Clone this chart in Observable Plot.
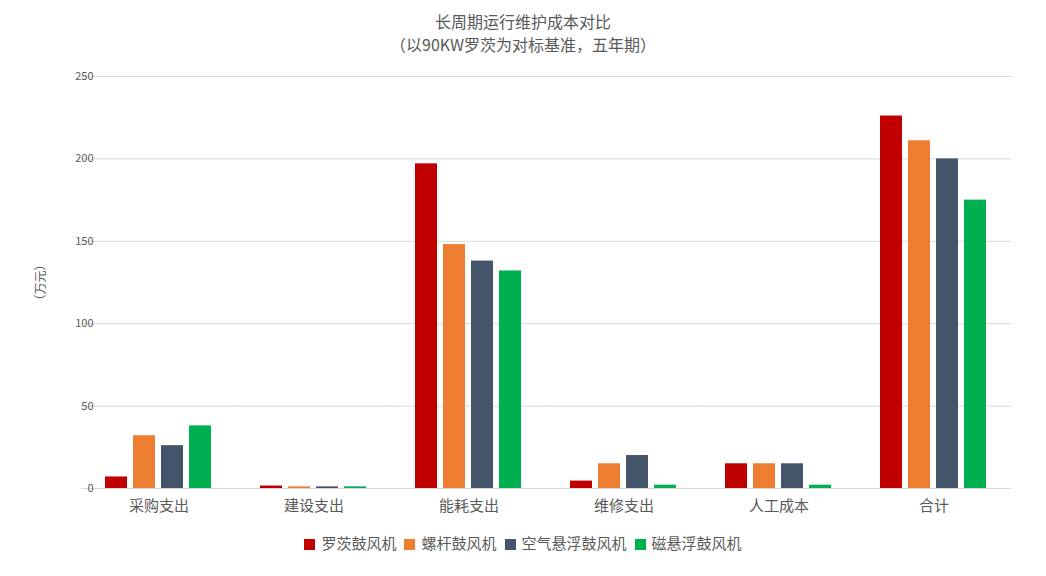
<!DOCTYPE html>
<html><head><meta charset="utf-8">
<script src="https://cdn.jsdelivr.net/npm/d3@7"></script>
<script src="https://cdn.jsdelivr.net/npm/@observablehq/plot@0.6"></script>
<style>
body{margin:0;background:#fff;font-family:"Noto Sans CJK SC","Noto Sans",sans-serif;color:#595959;width:1046px;overflow:hidden}
#title{height:60px;text-align:center;font-size:16px;line-height:23px;padding-top:10px;box-sizing:border-box}
#legend{display:flex;justify-content:center;gap:8px;font-size:15px;margin-top:2px}
#legend span.sw{display:inline-block;width:11px;height:11px;margin-right:6px;vertical-align:-1px}
</style></head><body>
<div id="title">长周期运行维护成本对比<br>（以90KW罗茨为对标基准，五年期）</div>
<div id="chart"></div>
<div id="legend"></div>
<script>
const categories = ["采购支出","建设支出","能耗支出","维修支出","人工成本","合计"];
const seriesNames = ["罗茨鼓风机","螺杆鼓风机","空气悬浮鼓风机","磁悬浮鼓风机"];
const colors = ["#C00000","#ED7D31","#44546A","#00B050"];
const roots   = [7, 1.5, 197, 4.5, 15, 226];
const screw   = [32, 1, 148, 15, 15, 211];
const airSusp = [26, 1, 138, 20, 15, 200];
const magSusp = [38, 1, 132, 2, 2, 175];
const yTicks = [0,50,100,150,200,250];

const seriesValues = [roots, screw, airSusp, magSusp];
const data = [];
categories.forEach((c, i) => seriesNames.forEach((s, j) => data.push({category: c, series: s, value: seriesValues[j][i]})));

const W = 1046, ML = 80, MR = 34, PI = 0.26;
const half = ((W - ML - MR) / categories.length) * PI / 2;

const chart = Plot.plot({
  width: W, height: 470,
  marginLeft: ML, marginRight: MR, marginTop: 16, marginBottom: 42,
  style: {fontFamily: '"Noto Sans CJK SC", sans-serif', color: "#595959", background: "#fff"},
  fx: {domain: categories, paddingInner: PI, paddingOuter: PI / 2, label: null},
  x: {domain: seriesNames, paddingInner: 0.2, paddingOuter: 0.14, axis: null},
  y: {domain: [0, 250], ticks: yTicks, label: null},
  color: {domain: seriesNames, range: colors},
  marks: [
    Plot.ruleY(yTicks, {stroke: "#d9d9d9", insetLeft: -half, insetRight: -half}),
    Plot.axisY(yTicks, {tickSize: 0, tickPadding: 8, fontSize: 11, label: null}),
    Plot.text(["（万元）"], {frameAnchor: "left", textAnchor: "middle", lineAnchor: "middle", dx: -60, dy: 0, rotate: -90, fontSize: 12, fill: "#595959", facet: "super"}),
    Plot.barY(data, {fx: "category", x: "series", y: "value", fill: "series"}),
    Plot.axisFx({anchor: "bottom", tickSize: 0, tickPadding: 12, fontSize: 15, label: null})
  ]
});
document.getElementById("chart").appendChild(chart);

const leg = document.getElementById("legend");
seriesNames.forEach((s, j) => {
  const d = document.createElement("div");
  d.innerHTML = `<span class="sw" style="background:${colors[j]}"></span>${s}`;
  leg.appendChild(d);
});
</script>
</body></html>
